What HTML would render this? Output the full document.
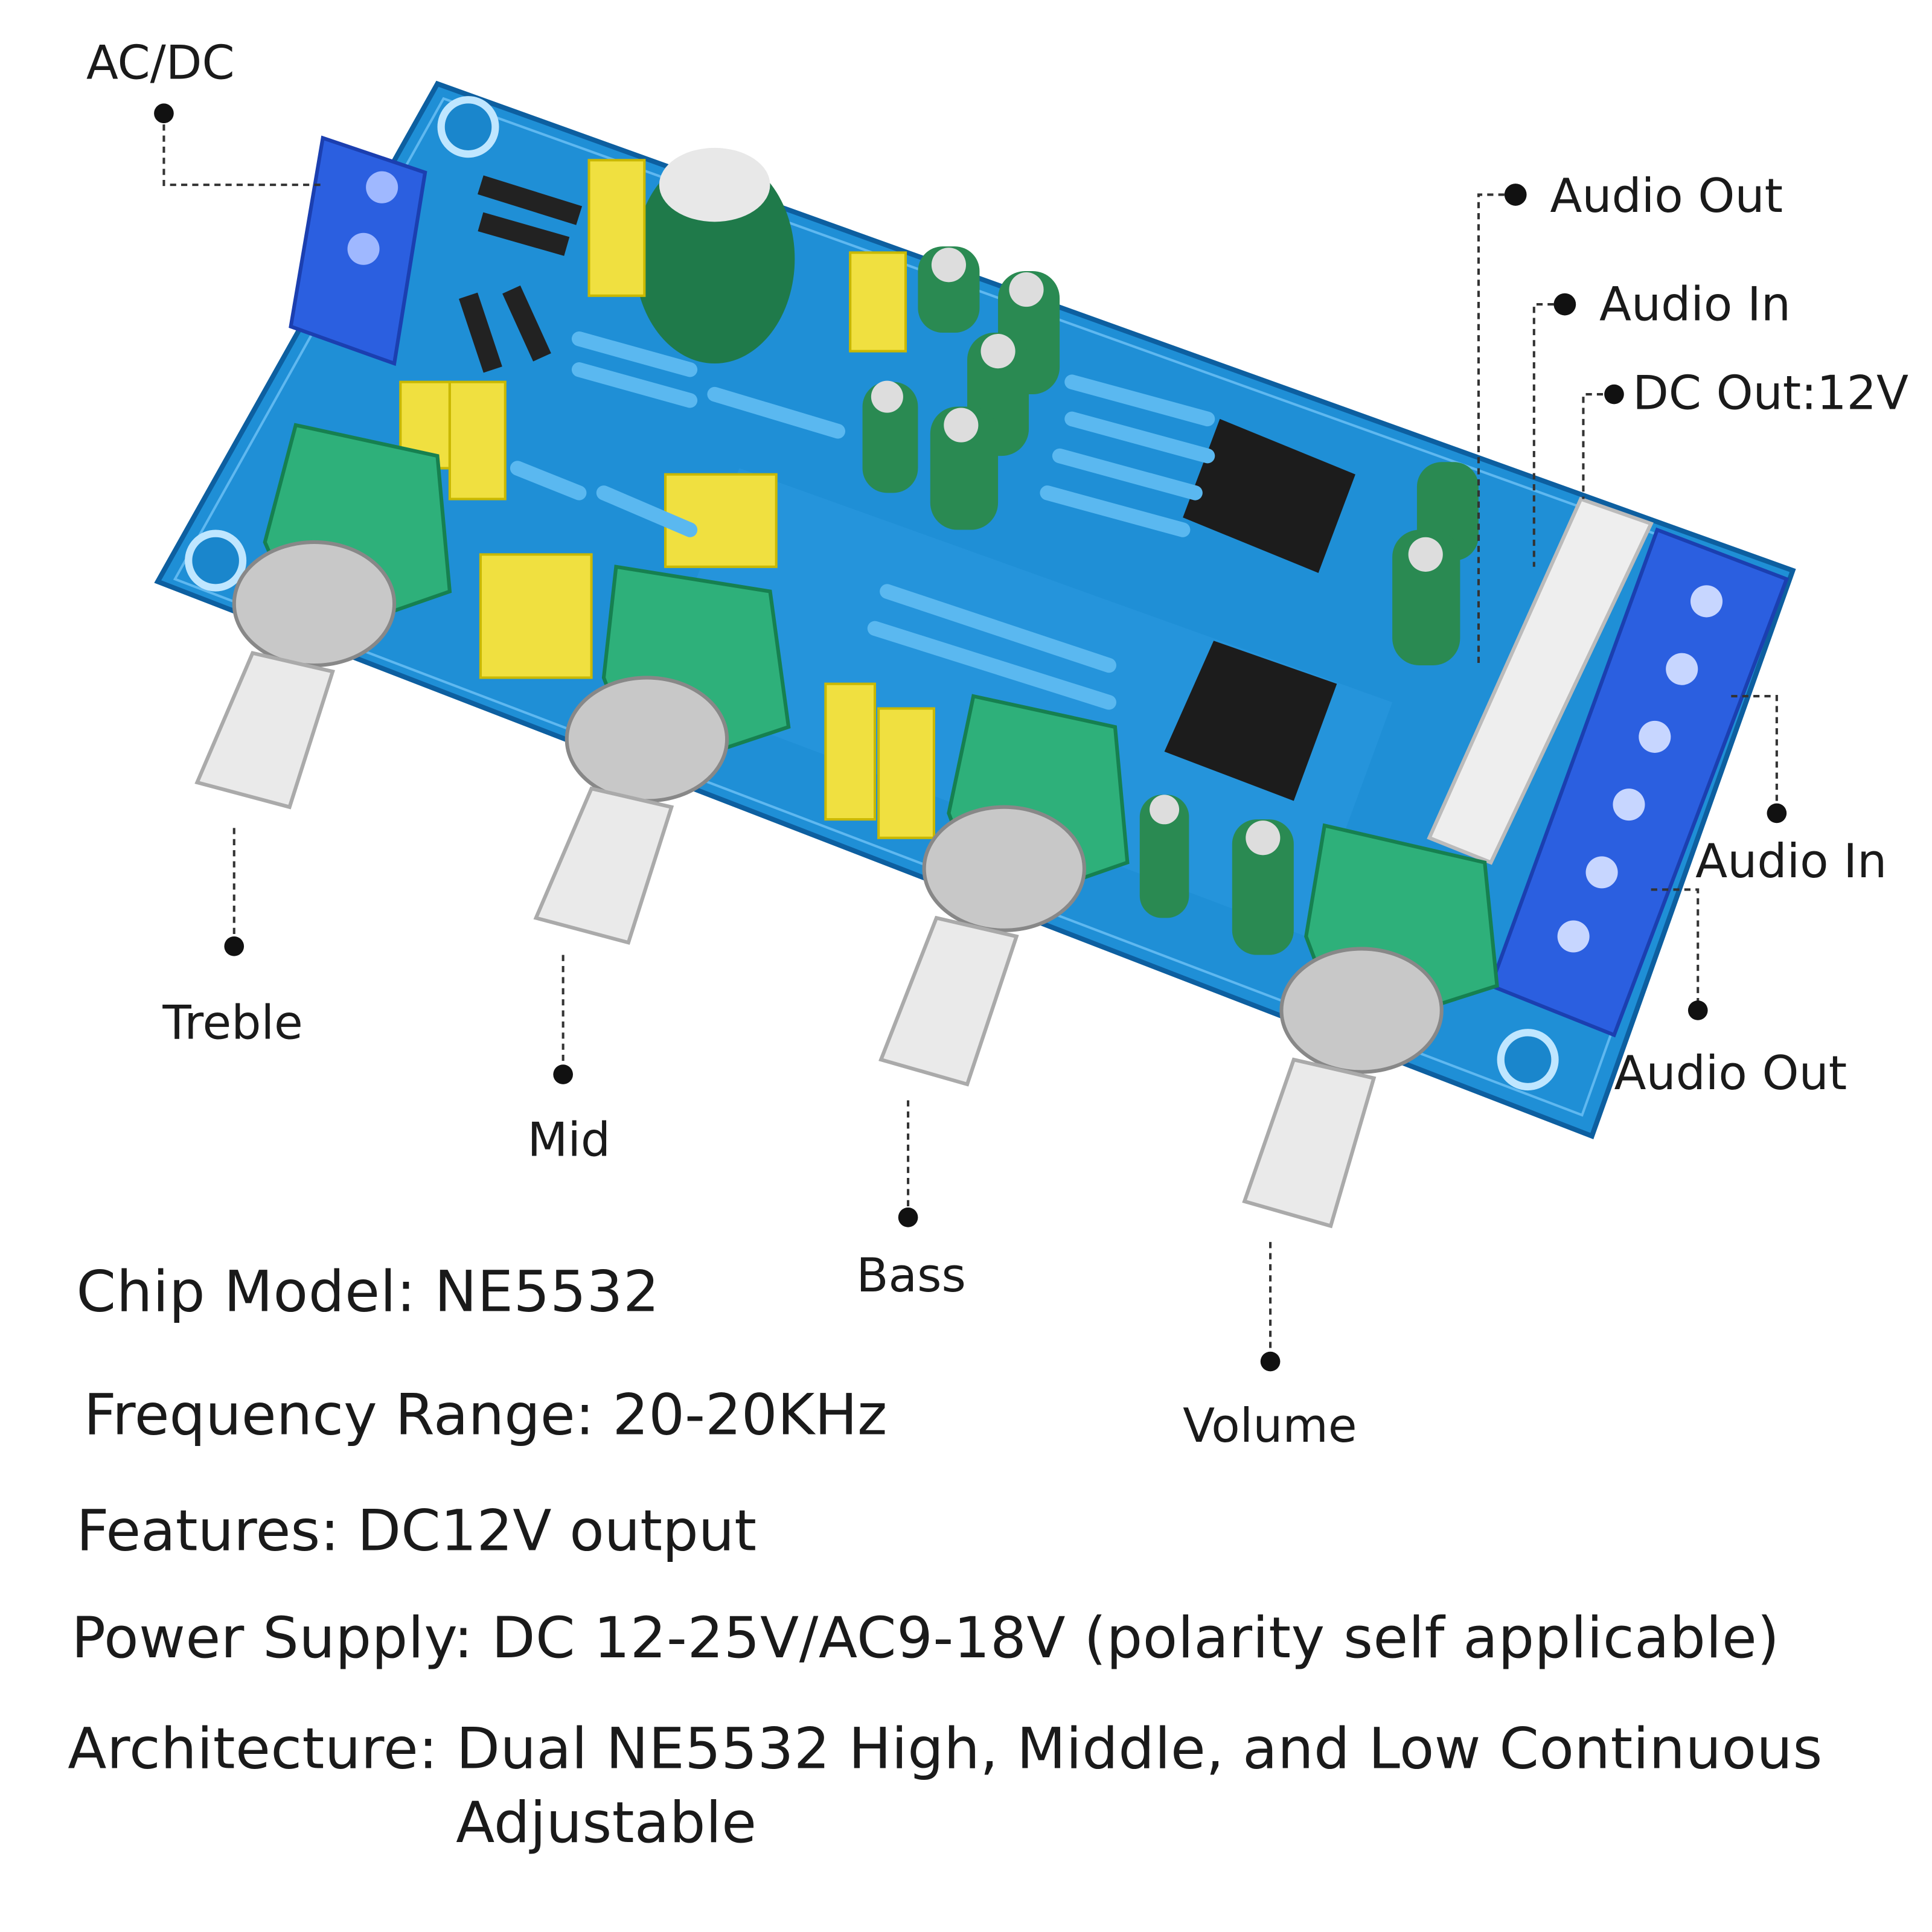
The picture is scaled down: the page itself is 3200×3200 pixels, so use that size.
<!DOCTYPE html>
<html><head><meta charset="utf-8"><style>
html,body{margin:0;padding:0;background:#fff}
svg{display:block}
text{font-family:"DejaVu Sans","Liberation Sans",sans-serif;fill:#1a1a1a}
</style></head><body>
<svg width="3200" height="3200" viewBox="0 0 1568 1568" xmlns="http://www.w3.org/2000/svg">
<rect width="1568" height="1568" fill="#fff"/>
<!-- board -->
<polygon points="355,68 1455,463 1292,922 128,472" fill="#1f8fd6" stroke="#0d5fa0" stroke-width="4"/>
<polygon points="360,80 1440,468 1284,905 142,470" fill="none" stroke="#5fb8f0" stroke-width="2"/>
<!-- mounting holes -->
<g fill="#1a86cc" stroke="#bfe6ff" stroke-width="6">
<circle cx="380" cy="103" r="22"/><circle cx="1410" cy="480" r="20"/><circle cx="175" cy="455" r="22"/><circle cx="1240" cy="860" r="22"/></g>
<!-- traces area shading -->
<polygon points="600,380 1130,570 1060,760 530,560" fill="#2a97de" opacity=".6"/>
<!-- left terminal -->
<polygon points="262,112 345,140 320,295 236,265" fill="#2b5fe0" stroke="#1b3fb0" stroke-width="3"/>
<circle cx="310" cy="152" r="13" fill="#9fb8ff"/><circle cx="295" cy="202" r="13" fill="#9fb8ff"/>
<!-- right terminal -->
<polygon points="1345,430 1450,470 1310,840 1210,800" fill="#2b5fe0" stroke="#1b3fb0" stroke-width="3"/>
<g fill="#c7d6ff"><circle cx="1385" cy="488" r="13"/><circle cx="1365" cy="543" r="13"/><circle cx="1343" cy="598" r="13"/><circle cx="1322" cy="653" r="13"/><circle cx="1300" cy="708" r="13"/><circle cx="1277" cy="760" r="13"/></g>
<!-- white connector -->
<polygon points="1283,405 1340,425 1210,700 1160,680" fill="#eeeeee" stroke="#bbb" stroke-width="3"/>
<!-- diodes -->
<g stroke="#222" stroke-width="16"><line x1="390" y1="150" x2="470" y2="175"/><line x1="390" y1="180" x2="460" y2="200"/><line x1="380" y1="240" x2="400" y2="300"/><line x1="415" y1="235" x2="440" y2="290"/></g>
<!-- big cap -->
<ellipse cx="580" cy="210" rx="65" ry="85" fill="#1f7a4a"/><ellipse cx="580" cy="150" rx="45" ry="30" fill="#e8e8e8"/>
<!-- small caps -->
<g fill="#2a8a52"><rect x="745" y="200" width="50" height="70" rx="20"/><rect x="810" y="220" width="50" height="100" rx="22"/><rect x="785" y="270" width="50" height="100" rx="22"/><rect x="700" y="310" width="45" height="90" rx="20"/><rect x="755" y="330" width="55" height="100" rx="22"/><rect x="1150" y="375" width="50" height="80" rx="20"/><rect x="1130" y="430" width="55" height="110" rx="22"/><rect x="925" y="645" width="40" height="100" rx="18"/><rect x="1000" y="665" width="50" height="110" rx="20"/></g>
<g fill="#ddd"><circle cx="770" cy="215" r="14"/><circle cx="833" cy="235" r="14"/><circle cx="810" cy="285" r="14"/><circle cx="720" cy="322" r="13"/><circle cx="780" cy="345" r="14"/><circle cx="1157" cy="450" r="14"/><circle cx="945" cy="657" r="12"/><circle cx="1025" cy="680" r="14"/></g>
<!-- yellow caps -->
<g fill="#f0e040" stroke="#c9b800" stroke-width="2"><rect x="478" y="130" width="45" height="110"/><rect x="690" y="205" width="45" height="80"/><rect x="325" y="310" width="40" height="70"/><rect x="365" y="310" width="45" height="95"/><rect x="390" y="450" width="90" height="100"/><rect x="540" y="385" width="90" height="75"/><rect x="670" y="555" width="40" height="110"/><rect x="713" y="575" width="45" height="105"/></g>
<!-- chips -->
<polygon points="990,340 1100,385 1070,465 960,420" fill="#1c1c1c"/>
<polygon points="985,520 1085,555 1050,650 945,610" fill="#1c1c1c"/>
<!-- resistors -->
<g stroke="#5ab8f0" stroke-width="12" stroke-linecap="round">
<line x1="470" y1="275" x2="560" y2="300"/><line x1="470" y1="300" x2="560" y2="325"/><line x1="580" y1="320" x2="680" y2="350"/><line x1="870" y1="310" x2="980" y2="340"/><line x1="870" y1="340" x2="980" y2="370"/><line x1="860" y1="370" x2="970" y2="400"/><line x1="850" y1="400" x2="960" y2="430"/><line x1="720" y1="480" x2="900" y2="540"/><line x1="710" y1="510" x2="900" y2="570"/><line x1="420" y1="380" x2="470" y2="400"/><line x1="490" y1="400" x2="560" y2="430"/></g>
<!-- pots -->
<g>
<polygon points="240,345 355,370 365,480 250,520 215,440" fill="#2eb07a" stroke="#168050" stroke-width="3"/>
<polygon points="500,460 625,480 640,590 520,630 490,550" fill="#2eb07a" stroke="#168050" stroke-width="3"/>
<polygon points="790,565 905,590 915,700 800,740 770,660" fill="#2eb07a" stroke="#168050" stroke-width="3"/>
<polygon points="1075,670 1205,700 1215,800 1090,840 1060,760" fill="#2eb07a" stroke="#168050" stroke-width="3"/>
</g>
<g fill="#c8c8c8" stroke="#888" stroke-width="3">
<ellipse cx="255" cy="490" rx="65" ry="50"/><ellipse cx="525" cy="600" rx="65" ry="50"/><ellipse cx="815" cy="705" rx="65" ry="50"/><ellipse cx="1105" cy="820" rx="65" ry="50"/></g>
<g fill="#eaeaea" stroke="#aaa" stroke-width="3">
<polygon points="205,530 270,545 235,655 160,635"/><polygon points="480,640 545,655 510,765 435,745"/><polygon points="760,745 825,760 785,880 715,860"/><polygon points="1050,860 1115,875 1080,995 1010,975"/></g>
<!-- leader lines -->
<g stroke="#333" stroke-width="2" stroke-dasharray="5,4" fill="none">
<polyline points="133,92 133,150 262,150"/>
<polyline points="1230,158 1200,158 1200,540"/>
<polyline points="1270,247 1245,247 1245,460"/>
<polyline points="1310,320 1285,320 1285,405"/>
<polyline points="1405,565 1442,565 1442,660"/>
<polyline points="1340,722 1378,722 1378,820"/>
<line x1="190" y1="672" x2="190" y2="768"/>
<line x1="457" y1="775" x2="457" y2="872"/>
<line x1="737" y1="893" x2="737" y2="988"/>
<line x1="1031" y1="1008" x2="1031" y2="1105"/>
</g>
<g fill="#111"><circle cx="133" cy="92" r="8"/><circle cx="1230" cy="158" r="9"/><circle cx="1270" cy="247" r="9"/><circle cx="1310" cy="320" r="8"/><circle cx="1442" cy="660" r="8"/><circle cx="1378" cy="820" r="8"/><circle cx="190" cy="768" r="8"/><circle cx="457" cy="872" r="8"/><circle cx="737" cy="988" r="8"/><circle cx="1031" cy="1105" r="8"/></g>
<!-- labels -->
<g font-size="38">
<text x="70" y="64">AC/DC</text>
<text x="1258" y="172">Audio Out</text>
<text x="1298" y="260">Audio In</text>
<text x="1325" y="332">DC Out:12V</text>
<text x="1376" y="712">Audio In</text>
<text x="1310" y="884">Audio Out</text>
<text x="132" y="843">Treble</text>
<text x="428" y="938">Mid</text>
<text x="695" y="1048">Bass</text>
<text x="960" y="1170">Volume</text>
</g>
<g font-size="46">
<text x="62" y="1064" textLength="473">Chip Model: NE5532</text>
<text x="68" y="1164" textLength="652">Frequency Range: 20-20KHz</text>
<text x="62" y="1258" textLength="552">Features: DC12V output</text>
<text x="58" y="1345" textLength="1386">Power Supply: DC 12-25V/AC9-18V (polarity self applicable)</text>
<text x="55" y="1435" textLength="1424">Architecture: Dual NE5532 High, Middle, and Low Continuous</text>
<text x="370" y="1495" textLength="244">Adjustable</text>
</g>
</svg>
</body></html>
